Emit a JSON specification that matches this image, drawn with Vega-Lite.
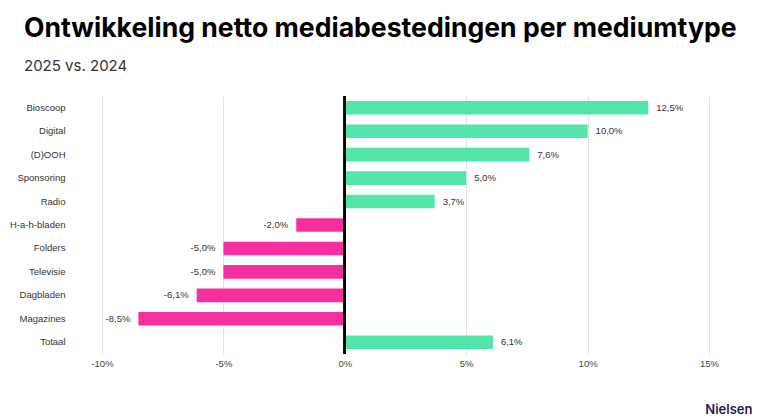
{
  "$schema": "https://vega.github.io/schema/vega-lite/v6.json",
  "width": 607,
  "height": 258,
  "autosize": {"type": "none"},
  "padding": {"left": 102, "top": 96, "right": 51, "bottom": 65},
  "background": "white",
  "title": {
    "text": "Ontwikkeling netto mediabestedingen per mediumtype",
    "subtitle": "2025 vs. 2024",
    "anchor": "start",
    "frame": "group",
    "dx": -78,
    "offset": 21,
    "font": "Inter",
    "fontSize": 26.6,
    "fontWeight": 700,
    "color": "#000000",
    "subtitleFont": "Inter",
    "subtitleFontSize": 15,
    "subtitleColor": "#333333",
    "subtitlePadding": 16
  },
  "data": {
    "values": [
      {"medium": "Bioscoop", "change": 0.125},
      {"medium": "Digital", "change": 0.100},
      {"medium": "(D)OOH", "change": 0.076},
      {"medium": "Sponsoring", "change": 0.050},
      {"medium": "Radio", "change": 0.037},
      {"medium": "H-a-h-bladen", "change": -0.020},
      {"medium": "Folders", "change": -0.050},
      {"medium": "Televisie", "change": -0.050},
      {"medium": "Dagbladen", "change": -0.061},
      {"medium": "Magazines", "change": -0.085},
      {"medium": "Totaal", "change": 0.061}
    ]
  },
  "encoding": {
    "y": {
      "field": "medium",
      "type": "nominal",
      "sort": null,
      "scale": {"paddingInner": 0.42, "paddingOuter": 0.21},
      "axis": {
        "title": null,
        "domain": false,
        "ticks": false,
        "labelPadding": 37,
        "labelFont": "Liberation Sans",
        "labelFontSize": 9.5,
        "labelColor": "#333333"
      }
    },
    "x": {
      "field": "change",
      "type": "quantitative",
      "scale": {"domain": [-0.10, 0.15], "nice": false},
      "axis": {
        "values": [-0.10, -0.05, 0, 0.05, 0.10, 0.15],
        "format": ".0%",
        "domain": false,
        "ticks": false,
        "grid": true,
        "gridColor": "#e3e3e3",
        "gridWidth": 1,
        "labelFlush": false,
        "labelPadding": 4,
        "labelFont": "Liberation Sans",
        "labelFontSize": 9.5,
        "labelColor": "#444444",
        "title": "Nielsen",
        "titleAnchor": "end",
        "titleAlign": "right",
        "titleBaseline": "alphabetic",
        "titleX": 650,
        "titleY": 59,
        "titleFont": "Inter",
        "titleFontSize": 13,
        "titleFontWeight": 600,
        "titleColor": "#1b1f4b"
      }
    }
  },
  "layer": [
    {
      "mark": {"type": "bar"},
      "encoding": {
        "color": {
          "condition": {"test": "datum.change < 0", "value": "#f5309e"},
          "value": "#52e6aa"
        }
      }
    },
    {
      "transform": [{"filter": "datum.change >= 0"}],
      "mark": {"type": "text", "align": "left", "baseline": "middle", "dx": 8, "font": "Liberation Sans", "fontSize": 9.5, "color": "#333333"},
      "encoding": {"text": {"field": "change", "format": ".1%"}}
    },
    {
      "transform": [{"filter": "datum.change < 0"}],
      "mark": {"type": "text", "align": "right", "baseline": "middle", "dx": -8, "font": "Liberation Sans", "fontSize": 9.5, "color": "#333333"},
      "encoding": {"text": {"field": "change", "format": ".1%"}}
    },
    {
      "mark": {"type": "rule", "color": "#000000", "strokeWidth": 2},
      "encoding": {"x": {"datum": 0}, "y": null}
    }
  ],
  "config": {
    "view": {"stroke": null},
    "locale": {
      "number": {
        "decimal": ",",
        "thousands": ".",
        "grouping": [3],
        "currency": ["€", ""],
        "minus": "-"
      }
    }
  }
}
